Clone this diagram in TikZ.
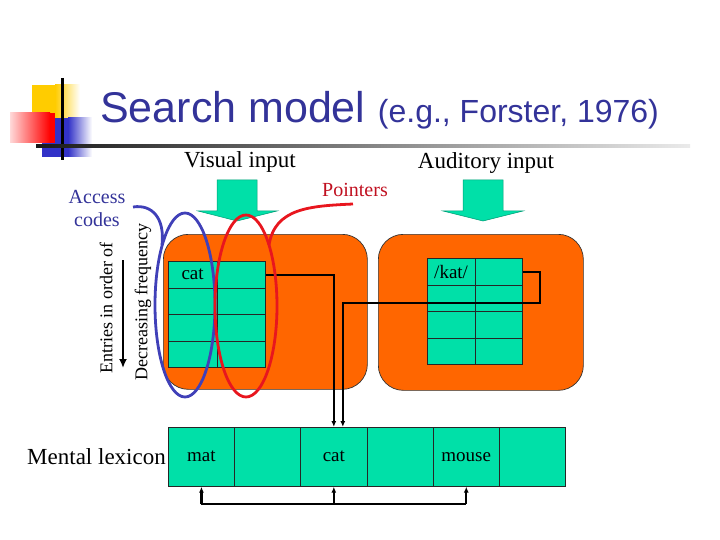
\documentclass[tikz,border=0pt]{standalone}
\usepackage{fontspec}
\setmainfont{Liberation Serif}
\newfontfamily\titlefont{Liberation Sans}
\usetikzlibrary{arrows.meta, positioning, calc}

\definecolor{slideblue}{RGB}{51,51,153}
\definecolor{lexgreen}{RGB}{0,224,168}
\definecolor{boxorange}{RGB}{255,102,0}
\definecolor{loopblue}{RGB}{64,64,184}
\definecolor{loopred}{RGB}{232,22,30}
\definecolor{ptrred}{RGB}{192,16,32}
\definecolor{logoyellow}{RGB}{255,204,0}
\definecolor{logoblue}{RGB}{50,50,200}

\tikzset{
  lbl/.style={inner sep=0pt, font=\fontsize{23}{27}\selectfont},
  side/.style={inner sep=0pt, font=\fontsize{18}{21}\selectfont, rotate=90},
  vcell/.style={draw=black!85, fill=lexgreen, line width=0.7pt, minimum width=48.5pt, minimum height=26.5pt, inner sep=0pt, anchor=north west, font=\fontsize{19}{22}\selectfont, text height=12pt, text depth=2pt},
  acell/.style={vcell, minimum width=47.5pt},
  lexcell/.style={vcell, minimum width=66.2pt, minimum height=59pt},
  orangebox/.style={draw=black!80, fill=boxorange, line width=0.7pt, rounded corners=25pt, anchor=north west, inner sep=0pt},
  wire/.style={line width=2.2pt},
  ptr/.style={wire, -{Latex[length=6pt,width=5pt]}},
  bluepen/.style={draw=loopblue, line width=2.8pt},
  redpen/.style={draw=loopred, line width=2.8pt},
  inarrow/.style={fill=lexgreen, draw=lexgreen!70!black, line width=0.5pt}
}

\begin{document}
\begin{tikzpicture}[x=1pt, y=-1pt]
\useasboundingbox (0,0) rectangle (720,540);

\fill[logoyellow] (32,85) rectangle (55,133);
\shade[left color=logoyellow, right color=white] (55,85) rectangle (80,133);
\fill[logoblue] (42,118) rectangle (68,157);
\shade[left color=logoblue, right color=white] (68,118) rectangle (92,157);
\shade[left color=red!15, right color=red] (10,113) rectangle (50,143);
\fill[red] (50,113) rectangle (55,143);
\draw[line width=3pt] (62,78) -- (62,160);
\shade[left color=black!90, right color=black!8] (36,144.5) rectangle (690,147.5);

\node[anchor=base west, inner sep=0pt, text=slideblue, font=\titlefont\fontsize{43}{50}\selectfont] (title) at (100,123) {Search model};
\node[base right=12pt of title, inner sep=0pt, text=slideblue, font=\titlefont\fontsize{32}{36}\selectfont] (cite) {(e.g., Forster, 1976)};

\node[lbl] (visual) at (240,162) {Visual input};
\node[lbl] (audio) at (486,163) {Auditory input};
\node[inner sep=0pt, text=ptrred, font=\fontsize{20}{23}\selectfont] (pointers) at (355,190) {Pointers};
\node[inner sep=0pt, align=center, text=slideblue, font=\fontsize{20}{23}\selectfont] (access) at (97,208) {Access\\codes};
\node[side] (entries) at (106,308) {Entries in order of};
\node[side] (decr) at (143,302) {Decreasing frequency};
\coordinate (freqtop) at (123,260);
\coordinate (freqbot) at (123,368);
\draw[line width=2.2pt, -{Latex[length=9pt,width=8pt]}] (freqtop) -- (freqbot);

\draw[inarrow] (217,180) -- (257,180) -- (257,211) -- (277,211) -- (237,221) -- (198,211) -- (217,211) -- cycle;
\draw[inarrow] (463,180) -- (503,180) -- (503,211) -- (523,211) -- (483,221) -- (443,211) -- (463,211) -- cycle;

\node[orangebox, minimum width=204pt, minimum height=155pt] (vbox) at (163,234) {};
\node[orangebox, minimum width=205pt, minimum height=156pt] (abox) at (378,234) {};

\foreach \r in {1,...,4}
  \foreach \c in {1,2} {
    \node[vcell] (v\r\c) at ({168+(\c-1)*48.5},{261+(\r-1)*26.5}) {};
    \node[acell] (a\r\c) at ({427+(\c-1)*47.5},{258+(\r-1)*26.5}) {};
  }
\node[inner sep=0pt, font=\fontsize{19}{22}\selectfont] at (v11) {cat};
\node[inner sep=0pt, font=\fontsize{19}{22}\selectfont] at (a11) {/kat/};

\foreach \w [count=\i] in {mat,{},cat,{},mouse,{}}
  \node[lexcell] (lex\i) at ({168+(\i-1)*66.2},427) {\w};
\node[lbl, left=2pt of lex1] (mental) {Mental lexicon};

\draw[ptr] (v12.east) -| (lex3.north);
\draw[ptr] (a12.east) -- ++(17,0) -- ++(0,31) -| ($(lex3.north)+(9,0)$);

\coordinate (bus1) at ($(lex1.south)+(0,17)$);
\coordinate (bus3) at ($(lex3.south)+(0,17)$);
\coordinate (bus5) at ($(lex5.south)+(0,17)$);
\draw[wire] (bus1) -- (bus5);
\draw[ptr] (bus1) -- (lex1.south);
\draw[ptr] (bus3) -- (lex3.south);
\draw[ptr] (bus5) -- (lex5.south);

\draw[bluepen] (185,305) ellipse [x radius=30pt, y radius=92pt];
\draw[bluepen] (133,207) .. controls (152,204) and (165,218) .. (162,245);
\draw[redpen] (246,306) ellipse [x radius=31pt, y radius=91pt];
\draw[redpen] (353,204) .. controls (310,206) and (275,208) .. (269,245);
\end{tikzpicture}
\end{document}
